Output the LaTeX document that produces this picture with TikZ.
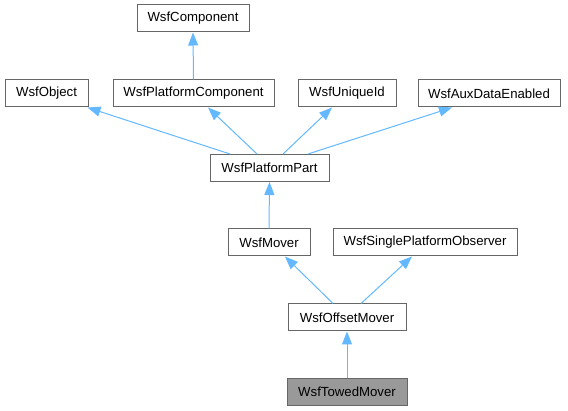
\documentclass[tikz,border=0pt]{standalone}
\usepackage{fontspec}
\setmainfont{Liberation Sans}
\usetikzlibrary{arrows.meta}
\definecolor{edgeblue}{HTML}{63B8FF}
\definecolor{boxborder}{HTML}{666666}
\definecolor{hilite}{HTML}{999999}
\begin{document}
\begin{tikzpicture}[x=1pt,y=-1pt,
  cls/.style={draw=boxborder,fill=white,line width=1pt,minimum height=27pt,inner sep=0pt,
    font=\fontsize{13.2}{15}\selectfont,text=black},
  cur/.style={cls,fill=hilite},
  edge/.style={draw=edgeblue,line width=1pt,-{Triangle[length=13pt,width=10pt]}}]
\useasboundingbox (0,0) rectangle (568,411);
\node[cls,minimum width=112pt] (comp) at (193,18.5) {WsfComponent};
\node[cls,minimum width=83pt] (obj) at (46.5,93.5) {WsfObject};
\node[cls,minimum width=161pt] (pcomp) at (193.5,93.5) {WsfPlatformComponent};
\node[cls,minimum width=98pt] (uid) at (347,93.5) {WsfUniqueId};
\node[cls,minimum width=142pt] (aux) at (489,93.5) {WsfAuxDataEnabled};
\node[cls,minimum width=119pt] (pp) at (269.5,168) {WsfPlatformPart};
\node[cls,minimum width=82pt] (mover) at (269,242.5) {WsfMover};
\node[cls,minimum width=184pt] (spo) at (425,242.5) {WsfSinglePlatformObserver};
\node[cls,minimum width=118pt] (om) at (347,317.5) {WsfOffsetMover};
\node[cur,minimum width=120pt] (tm) at (347,392) {WsfTowedMover};
\draw[edge] (pcomp.north) -- (comp.south);
\draw[edge] ([xshift=-39.5pt]pp.north) -- ([xshift=-1pt]obj.south east);
\draw[edge] ([xshift=-12.5pt]pp.north) -- ([xshift=14.5pt]pcomp.south);
\draw[edge] ([xshift=13.5pt]pp.north) -- ([xshift=-15pt]uid.south);
\draw[edge] ([xshift=38.5pt]pp.north) -- ([xshift=-37pt]aux.south);
\draw[edge] (mover.north) -- (pp.south);
\draw[edge] ([xshift=-14pt]om.north) -- ([xshift=16pt]mover.south);
\draw[edge] ([xshift=14pt]om.north) -- ([xshift=-13pt]spo.south);
\draw[edge] (tm.north) -- (om.south);
\end{tikzpicture}
\end{document}
